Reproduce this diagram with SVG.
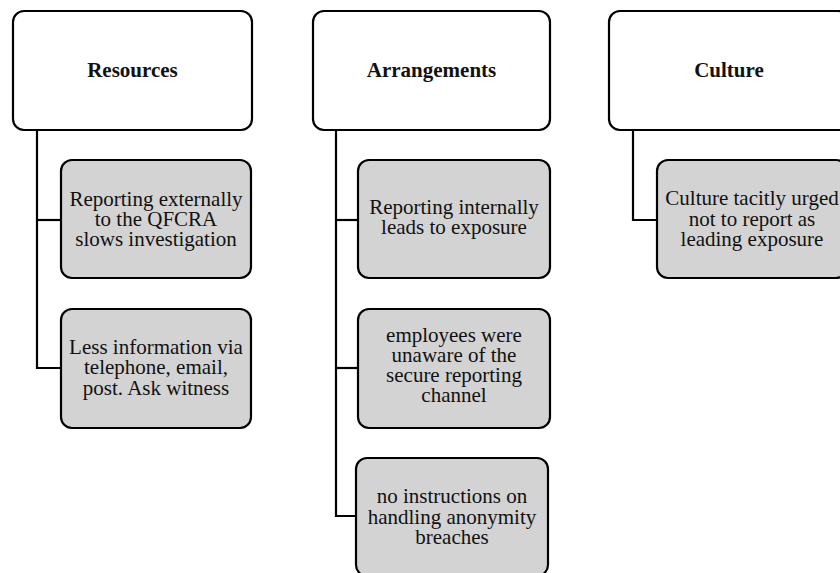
<svg xmlns="http://www.w3.org/2000/svg" width="840" height="573" viewBox="0 0 840 573">
  <style>
    .head { fill: #ffffff; stroke: #000; stroke-width: 2.2; }
    .item { fill: #d3d3d3; stroke: #000; stroke-width: 2.2; }
    .link { fill: none; stroke: #000; stroke-width: 2.2; }
    text { font-family: "Liberation Serif", "Times New Roman", serif; font-size: 21px; fill: #111; text-anchor: middle; }
    .title { font-weight: bold; }
  </style>
  <rect width="840" height="573" fill="#ffffff"/>

  <!-- connectors -->
  <g id="connectors">
    <polyline class="link" points="37,130 37,368 61,368"/>
    <line class="link" x1="37" y1="220" x2="61" y2="220"/>
    <polyline class="link" points="336,130 336,516 356,516"/>
    <line class="link" x1="336" y1="220" x2="358" y2="220"/>
    <line class="link" x1="336" y1="368" x2="358" y2="368"/>
    <polyline class="link" points="633,130 633,220 657,220"/>
  </g>

  <!-- column 1 -->
  <g id="resources">
    <rect class="head" x="13" y="11" width="239" height="119" rx="11"/>
    <text class="title" x="132.5" y="77">Resources</text>
  </g>
  <g id="reporting-externally">
    <rect class="item" x="61" y="160" width="190" height="118" rx="11"/>
    <text x="156" y="205.5">Reporting externally</text>
    <text x="156" y="226">to the QFCRA</text>
    <text x="156" y="246">slows investigation</text>
  </g>
  <g id="less-information">
    <rect class="item" x="61" y="309" width="190" height="119" rx="11"/>
    <text x="156" y="353.5">Less information via</text>
    <text x="156" y="374">telephone, email,</text>
    <text x="156" y="394.5">post. Ask witness</text>
  </g>

  <!-- column 2 -->
  <g id="arrangements">
    <rect class="head" x="313" y="11" width="237" height="119" rx="11"/>
    <text class="title" x="431.5" y="77">Arrangements</text>
  </g>
  <g id="reporting-internally">
    <rect class="item" x="358" y="160" width="192" height="118" rx="11"/>
    <text x="454" y="214">Reporting internally</text>
    <text x="454" y="234">leads to exposure</text>
  </g>
  <g id="unaware-channel">
    <rect class="item" x="358" y="309" width="192" height="119" rx="11"/>
    <text x="454" y="342">employees were</text>
    <text x="454" y="362">unaware of the</text>
    <text x="454" y="382">secure reporting</text>
    <text x="454" y="402">channel</text>
  </g>
  <g id="no-instructions">
    <rect class="item" x="356" y="458" width="192" height="118" rx="11"/>
    <text x="452" y="503">no instructions on</text>
    <text x="452" y="523.5">handling anonymity</text>
    <text x="452" y="544">breaches</text>
  </g>

  <!-- column 3 -->
  <g id="culture">
    <rect class="head" x="609" y="11" width="240" height="119" rx="11"/>
    <text class="title" x="729" y="77">Culture</text>
  </g>
  <g id="culture-urged">
    <rect class="item" x="657" y="160" width="190" height="118" rx="11"/>
    <text x="752" y="205">Culture tacitly urged</text>
    <text x="752" y="225.5">not to report as</text>
    <text x="752" y="246">leading exposure</text>
  </g>
</svg>
